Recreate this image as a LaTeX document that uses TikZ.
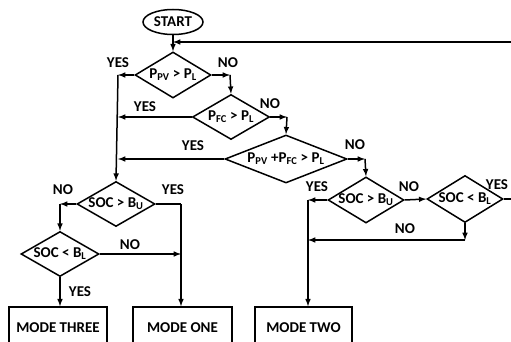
\documentclass[tikz,border=0pt]{standalone}
\usepackage{fontspec}
\setmainfont{Carlito}
\usetikzlibrary{shapes.geometric, arrows, positioning, calc}

\tikzset{
    flowline/.style={line width=1.5pt, -latex},
    plainline/.style={line width=1.5pt},
    startnode/.style={ellipse, draw, line width=1.5pt, inner sep=0pt,
                      minimum width=60pt, minimum height=25pt},
    testnode/.style={diamond, draw, line width=1.5pt, inner sep=0pt,
                     aspect=1.7, minimum width=76pt, minimum height=46pt},
    modebox/.style={rectangle, draw, line width=1.5pt, inner sep=0pt,
                    minimum width=98pt, minimum height=42pt},
    answer/.style={inner sep=0pt}
}

\newcommand{\ltxt}[1]{\fontsize{15}{17}\selectfont\bfseries #1}

\begin{document}
\begin{tikzpicture}[x=1pt, y=-1pt, font=\ltxt{}]
    \useasboundingbox (0,0) rectangle (511,342);
    \clip (0,0) rectangle (511,342);
    % Start and decisions
    \node[startnode] (start) at (173,22) {START};
    \node[testnode] (pvpl) at (173,75) {P\textsubscript{PV} > P\textsubscript{L}};
    \node[testnode, minimum width=77pt, minimum height=45pt] (fcpl) at (231,117)
        {P\textsubscript{FC} > P\textsubscript{L}};
    \node[testnode, aspect=2.5, minimum width=122pt, minimum height=48pt] (sumpl) at (286,159)
        {P\textsubscript{PV} +P\textsubscript{FC} > P\textsubscript{L}};
    \node[testnode] (socbur) at (366,200) {SOC > B\textsubscript{U}};
    \node[testnode, minimum height=47pt] (socblr) at (465,199) {SOC < B\textsubscript{L}};
    \node[testnode, minimum width=78pt, minimum height=45pt] (socbul) at (116,204)
        {SOC > B\textsubscript{U}};
    \node[testnode, minimum width=78pt, minimum height=45pt] (socbll) at (60,254)
        {SOC < B\textsubscript{L}};
    % Modes
    \node[modebox] (mthree) at (58,328) {MODE THREE};
    \node[modebox, minimum width=99pt] (mone) at (182.5,328) {MODE ONE};
    \node[modebox, minimum width=97pt] (mtwo) at (303.5,328) {MODE TWO};
    % Corner points
    \coordinate (c1) at (230,75);
    \coordinate (c2) at (287,117);
    \coordinate (c3) at (365,159);
    \coordinate (lbus) at (118,75);
    \coordinate (lfc) at (118,117);
    \coordinate (lsum) at (118,159);
    \coordinate (lno) at (60,204);
    \coordinate (lyes) at (181,204);
    \coordinate (lnob) at (181,254);
    \coordinate (ryes) at (308,200);
    \coordinate (rno) at (465,240);
    \coordinate (rback) at (308,240);
    \coordinate (redge) at (520,199);
    \coordinate (rtop) at (520,42);
    \coordinate (ltop) at (173,42);
    % Connectors
    \draw[flowline] (start) -- (pvpl);
    \draw[flowline] (pvpl.east) -- (c1);
    \draw[flowline] (c1) -- (fcpl.north);
    \draw[flowline] (fcpl.east) -- (c2);
    \draw[flowline] (c2) -- (sumpl.north);
    \draw[flowline] (sumpl.east) -- (c3);
    \draw[flowline] (c3) -- (socbur.north);
    \draw[flowline] (pvpl.west) -- (lbus);
    \draw[flowline] (lbus) -- (socbul.north);
    \draw[flowline] (fcpl.west) -- (lfc);
    \draw[flowline] (sumpl.west) -- (lsum);
    \draw[flowline] (socbul.west) -- (lno);
    \draw[flowline] (lno) -- (socbll.north);
    \draw[plainline] (socbul.east) -- (lyes);
    \draw[flowline] (lyes) -- (mone.north -| lyes);
    \draw[flowline] (socbll.east) -- (lnob);
    \draw[flowline] (socbll.south) -- (mthree.north -| socbll.south);
    \draw[flowline] (socbur.west) -- (ryes);
    \draw[flowline] (ryes) -- (mtwo.north -| ryes);
    \draw[flowline] (socbur.east) -- (socblr.west);
    \draw[flowline] (socblr.south) -- (rno);
    \draw[flowline] (rno) -- (rback);
    \draw[flowline] (socblr.east) -- (redge) -- (rtop) -- (ltop);
    % Answers
    \node[answer] (a1) at (118,63) {YES};
    \node[answer] (a2) at (228,63) {NO};
    \node[answer] (a3) at (145,107) {YES};
    \node[answer] (a4) at (270,104) {NO};
    \node[answer] (a5) at (193,146) {YES};
    \node[answer] (a6) at (355,145) {NO};
    \node[answer] (a7) at (317,187) {YES};
    \node[answer] (a8) at (409,187) {NO};
    \node[answer] (a9) at (497,185) {YES};
    \node[answer] (a10) at (405,229) {NO};
    \node[answer] (a11) at (63,190) {NO};
    \node[answer] (a12) at (173,190) {YES};
    \node[answer] (a13) at (130,245) {NO};
    \node[answer] (a14) at (80,292) {YES};
\end{tikzpicture}
\end{document}
